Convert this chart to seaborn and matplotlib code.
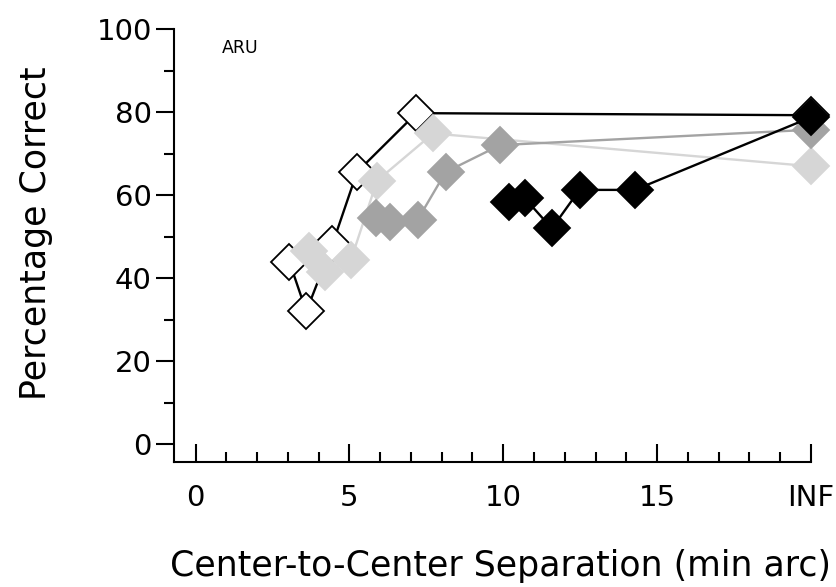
import matplotlib
matplotlib.use('Agg')
import matplotlib.pyplot as plt
import numpy as np
import pandas as pd
import seaborn as sns

sns.set_style('ticks')
plt.rcParams['font.family'] = ['DejaVu Sans']
plt.rcParams['text.color'] = 'black'
plt.rcParams['axes.labelcolor'] = 'black'
plt.rcParams['xtick.color'] = 'black'
plt.rcParams['ytick.color'] = 'black'
plt.rcParams['axes.edgecolor'] = 'black'

# values (INF plotted at x = 20)
open_x = [3.05, 3.6, 4.45, 5.25, 7.18, 20]
open_y = [44.0, 32.0, 48.2, 65.6, 79.8, 79.3]

light_x = [3.7, 4.2, 5.05, 5.9, 7.72, 20]
light_y = [46.6, 41.4, 44.4, 63.5, 74.9, 67.0]

mid_x = [5.85, 6.33, 7.22, 8.13, 9.9, 20]
mid_y = [54.6, 53.5, 54.1, 65.6, 72.1, 75.8]

dark_x = [10.2, 10.7, 11.58, 12.48, 14.28, 20]
dark_y = [58.5, 59.3, 52.0, 61.3, 61.3, 78.8]

x_ticks = [0, 5, 10, 15, 20]
x_ticklabels = ['0', '5', '10', '15', 'INF']
y_ticks = [0, 20, 40, 60, 80, 100]

series = [
    # (x, y, face, edge, line colour)
    (open_x, open_y, 'white', 'black', 'black'),
    (light_x, light_y, '#d6d6d6', '#d6d6d6', '#d6d6d6'),
    (mid_x, mid_y, '#a3a3a3', '#a3a3a3', '#a3a3a3'),
    (dark_x, dark_y, 'black', 'black', 'black'),
]

fig = plt.figure(figsize=(8.36, 5.87), dpi=100)
ax = fig.add_axes([0.2081, 0.2129, 0.7619, 0.7371])

for z, (xs, ys, face, edge, lc) in enumerate(series):
    df = pd.DataFrame({'sep': xs, 'pct': ys})
    sns.lineplot(data=df, x='sep', y='pct', ax=ax, sort=False, estimator=None,
                 color=lc, linewidth=1.7, marker='D', markersize=18,
                 markerfacecolor=face, markeredgecolor=edge, markeredgewidth=1.3,
                 clip_on=False, zorder=3 + z)

ax.text(1.45, 95.5, 'ARU', ha='center', va='center', fontsize=12.5)

ax.set_xlim(-0.7, 20)
ax.set_ylim(-4.3, 100)
ax.set_xticks(x_ticks)
ax.set_xticklabels(x_ticklabels)
ax.set_xticks(np.arange(0, 21, 1), minor=True)
ax.set_yticks(y_ticks)
ax.set_yticks(np.arange(10, 100, 20), minor=True)

ax.tick_params(axis='x', which='major', direction='in', length=13, width=1.5,
               labelsize=21, pad=16)
ax.tick_params(axis='x', which='minor', direction='in', length=7, width=1.5)
ax.tick_params(axis='y', which='major', direction='out', length=13, width=1.5,
               labelsize=21, pad=3)
ax.tick_params(axis='y', which='minor', direction='out', length=7, width=1.5)

for s in ['left', 'bottom']:
    ax.spines[s].set_linewidth(1.5)
sns.despine(ax=ax)

ax.set_xlabel('Center-to-Center Separation (min arc)', fontsize=25)
ax.set_ylabel('Percentage Correct', fontsize=25)
ax.xaxis.set_label_coords(0.513, -0.20)
ax.yaxis.set_label_coords(-0.19, 0.53)

fig.savefig('out.png', dpi=100)
